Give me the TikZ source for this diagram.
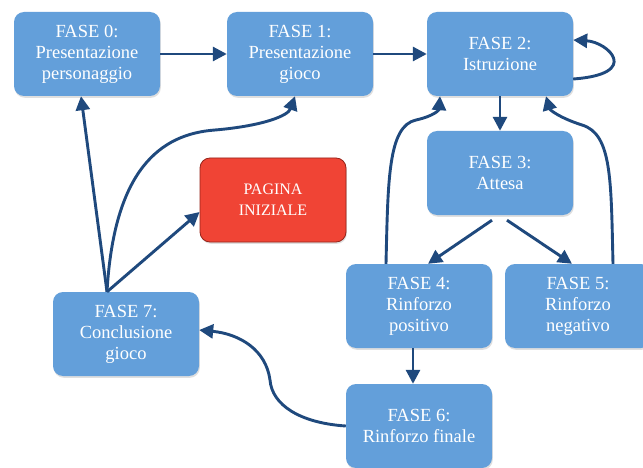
\documentclass[tikz,border=0pt]{standalone}
\usepackage{fontspec}
\setmainfont{Liberation Serif}
\usetikzlibrary{arrows.meta,shadows}

\definecolor{blufase}{RGB}{99,159,218}
\definecolor{rossopag}{RGB}{240,68,53}
\definecolor{bordopag}{RGB}{150,35,25}
\definecolor{navy}{RGB}{31,73,125}

\tikzset{
  fase/.style={draw=none, fill=blufase, rounded corners=10pt,
    minimum width=146pt, minimum height=84pt, inner sep=0pt,
    align=center, text=white, font=\fontsize{18.5}{21}\selectfont,
    drop shadow={opacity=0.25, shadow xshift=0.8pt, shadow yshift=-1.8pt}},
  pagina/.style={fase, draw=bordopag, line width=0.8pt, fill=rossopag,
    font=\fontsize{16}{21}\selectfont},
  freccia/.style={draw=navy, line width=2.9pt,
    -{Triangle[length=14pt,width=14pt]}}
}

\begin{document}
\begin{tikzpicture}[x=1pt,y=-1pt]
\useasboundingbox[fill=white] (0,0) rectangle (643,468);

\node[fase] (f0) at (87,54)  {FASE 0:\\Presentazione\\personaggio};
\node[fase] (f1) at (300,54) {FASE 1:\\Presentazione\\gioco};
\node[fase] (f2) at (500,54) {FASE 2:\\Istruzione};
\node[fase] (f3) at (500,173) {FASE 3:\\Attesa};
\node[pagina] (pag) at (273,200) {PAGINA\\INIZIALE};
\node[fase] (f4) at (419,306) {FASE 4:\\Rinforzo\\positivo};
\node[fase] (f5) at (578,306) {FASE 5:\\Rinforzo\\negativo};
\node[fase] (f7) at (126,334) {FASE 7:\\Conclusione\\gioco};
\node[fase] (f6) at (419,426) {FASE 6:\\Rinforzo finale};

% riga in alto
\draw[freccia] (f0) -- (f1);
\draw[freccia] (f1) -- (f2);
\draw[freccia] ([yshift=-25pt]f2.east) .. controls (642,74) and (608,42) .. ([yshift=14pt]f2.east);
\draw[freccia] (f2) -- (f3);

% dalla fase 3
\draw[freccia] ([xshift=-8pt,yshift=-5pt]f3.south) -- ([xshift=9pt]f4.north);
\draw[freccia] ([xshift=7pt,yshift=-5pt]f3.south) -- ([xshift=-6pt]f5.north);

% ritorno alla fase 2
\draw[freccia] ([xshift=-33pt]f4.north) .. controls (388,180) and (388,126) .. (416,120)
  .. controls (434,116) and (439,110) .. ([xshift=-60pt]f2.south);
\draw[freccia] ([xshift=35pt]f5.north) .. controls (611,180) and (612,134) .. (582,125)
  .. controls (560,118) and (550,110) .. ([xshift=46pt]f2.south);

\draw[freccia] ([xshift=-6pt]f4.south) -- ([xshift=-6pt]f6.north);
\draw[freccia] (f6.west) .. controls (300,423) and (272,405) .. (270,380)
  .. controls (266,350) and (240,334) .. ([yshift=4pt]f7.east);

% dalla fase 7
\draw[freccia] ([xshift=-19pt]f7.north) -- ([xshift=-6pt]f0.south);
\draw[freccia] ([xshift=-19pt]f7.north) .. controls (114,170) and (160,134) .. (215,130)
  .. controls (262,126) and (288,116) .. ([xshift=-5pt]f1.south);
\draw[freccia] ([xshift=-19pt]f7.north) -- ([yshift=-12pt]pag.west);

\end{tikzpicture}
\end{document}
